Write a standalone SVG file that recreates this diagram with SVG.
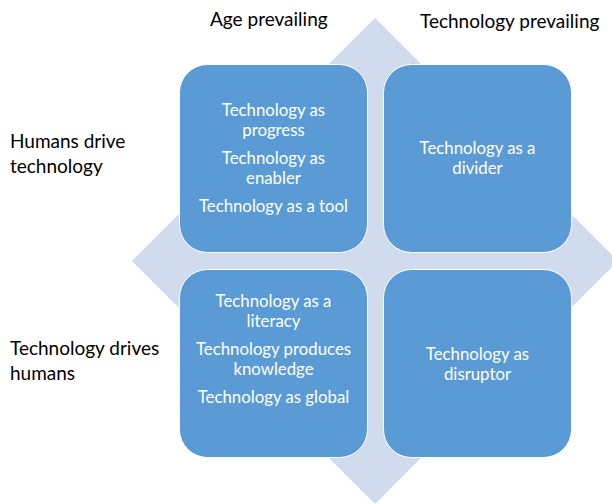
<svg xmlns="http://www.w3.org/2000/svg" width="612" height="504" viewBox="0 0 612 504">
<style>
.box{fill:#5b9bd5;stroke:#ffffff;stroke-width:1}
.t{font-family:Lato,"Open Sans",sans-serif;font-size:16.8px;fill:#ffffff;text-anchor:middle}
.h{font-family:Lato,"Open Sans",sans-serif;font-size:19px;fill:#000000}
</style>
<rect width="612" height="504" fill="#ffffff"/>
<polygon id="diamond" points="375,18 618,261 375,504 132,261" fill="#d0dcee"/>
<g id="headers">
<text class="h" x="210" y="26">Age prevailing</text>
<text class="h" x="420" y="28">Technology prevailing</text>
<text class="h" x="10" y="148">Humans drive</text>
<text class="h" x="10" y="173">technology</text>
<text class="h" x="10" y="355">Technology drives</text>
<text class="h" x="10" y="380">humans</text>
</g>
<g id="node-tl">
<rect class="box" x="179.5" y="64.5" width="188" height="188" rx="28"/>
<text class="t" x="273.5" y="116">Technology as</text>
<text class="t" x="273.5" y="136">progress</text>
<text class="t" x="273.5" y="164">Technology as</text>
<text class="t" x="273.5" y="184">enabler</text>
<text class="t" x="273.5" y="212">Technology as a tool</text>
</g>
<g id="node-tr">
<rect class="box" x="383.5" y="64.5" width="188" height="188" rx="28"/>
<text class="t" x="477.5" y="154">Technology as a</text>
<text class="t" x="477.5" y="174">divider</text>
</g>
<g id="node-bl">
<rect class="box" x="179.5" y="269.5" width="188" height="188" rx="28"/>
<text class="t" x="273.5" y="307">Technology as a</text>
<text class="t" x="273.5" y="327">literacy</text>
<text class="t" x="273.5" y="355">Technology produces</text>
<text class="t" x="273.5" y="375">knowledge</text>
<text class="t" x="273.5" y="403">Technology as global</text>
</g>
<g id="node-br">
<rect class="box" x="383.5" y="269.5" width="188" height="188" rx="28"/>
<text class="t" x="477.5" y="360">Technology as</text>
<text class="t" x="477.5" y="380">disruptor</text>
</g>
<g id="connectors"/>
</svg>
